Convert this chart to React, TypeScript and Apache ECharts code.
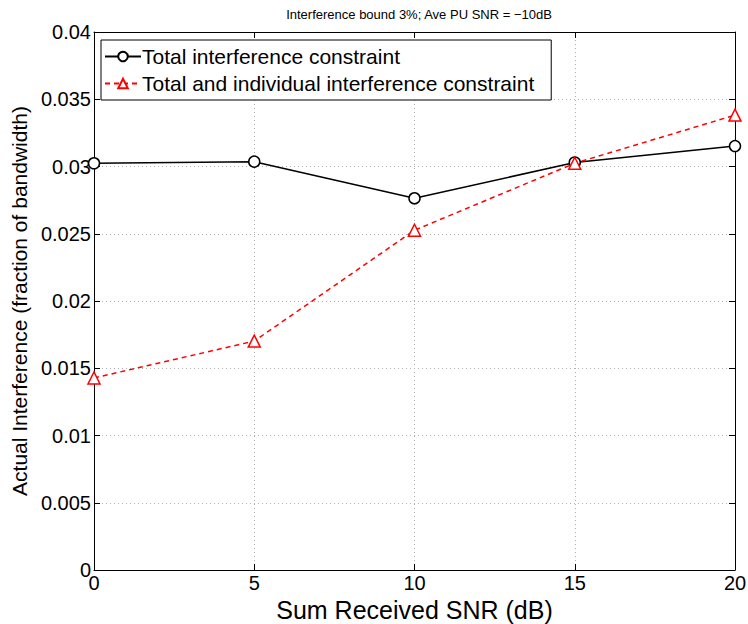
import React, { useEffect, useRef } from "react";
import * as echarts from "echarts";

const snrDb = [0, 5, 10, 15, 20];
const totalOnly = [0.03024, 0.03036, 0.02764, 0.0303, 0.03152];
const totalAndIndividual = [0.01428, 0.01702, 0.02526, 0.03024, 0.03382];
const seriesNames = [
  "Total interference constraint",
  "Total and individual interference constraint",
];

const FONT = "'Liberation Sans', Arial, Helvetica, sans-serif";

export default function App() {
  const ref = useRef<HTMLDivElement>(null);

  useEffect(() => {
    if (!ref.current) return;
    const chart = echarts.init(ref.current, null, { renderer: "svg" });
    const gridLine = { show: true, lineStyle: { color: "#b0b0b0", type: [1, 3] as any, width: 1 } };
    const mirrorAxisBase = {
      type: "value" as const,
      min: 0,
      axisLine: { show: true, onZero: false, lineStyle: { color: "#000", width: 1 } },
      axisTick: { show: true, inside: true, length: 6, lineStyle: { color: "#000" } },
      axisLabel: { show: false },
      splitLine: { show: false },
    };
    chart.setOption({
      animation: false,
      backgroundColor: "#fff",
      title: {
        text: "Interference bound 3%; Ave PU SNR = \u221210dB",
        left: 414,
        top: 3,
        textAlign: "center",
        textStyle: { fontFamily: FONT, fontSize: 13, fontWeight: "normal", color: "#000" },
      },
      grid: { left: 94, right: 13, top: 32, bottom: 54, containLabel: false, outerBoundsMode: "none" },
      legend: {
        left: 101,
        top: 40,
        orient: "vertical",
        backgroundColor: "#fff",
        borderColor: "#000",
        borderWidth: 1,
        borderRadius: 0,
        padding: [6, 17, 6, 3],
        itemGap: 6,
        itemWidth: 36,
        itemHeight: 12,
        textStyle: { fontFamily: FONT, fontSize: 21, color: "#000", padding: [0, 0, 0, -4] },
        data: seriesNames,
      },
      xAxis: [
        {
          type: "value",
          min: 0,
          max: 20,
          interval: 5,
          name: "Sum Received SNR (dB)",
          nameLocation: "middle",
          nameGap: 25,
          nameTextStyle: { fontFamily: FONT, fontSize: 25, color: "#000" },
          axisLine: { show: true, onZero: false, lineStyle: { color: "#000", width: 1 } },
          axisTick: { show: true, inside: true, length: 6, lineStyle: { color: "#000" } },
          axisLabel: { fontFamily: FONT, fontSize: 20, color: "#000", margin: 3 },
          splitLine: gridLine,
        },
        { ...mirrorAxisBase, position: "top", max: 20, interval: 5 },
      ],
      yAxis: [
        {
          type: "value",
          min: 0,
          max: 0.04,
          interval: 0.005,
          name: "Actual Interference (fraction of bandwidth)",
          nameLocation: "middle",
          nameGap: 64,
          nameTextStyle: { fontFamily: FONT, fontSize: 21, color: "#000" },
          axisLine: { show: true, onZero: false, lineStyle: { color: "#000", width: 1 } },
          axisTick: { show: true, inside: true, length: 6, lineStyle: { color: "#000" } },
          axisLabel: { fontFamily: FONT, fontSize: 20, color: "#000", margin: 3 },
          splitLine: gridLine,
        },
        { ...mirrorAxisBase, position: "right", max: 0.04, interval: 0.005 },
      ],
      series: [
        {
          name: seriesNames[0],
          type: "line",
          data: snrDb.map((x, i) => [x, totalOnly[i]]),
          symbol: "circle",
          symbolSize: 11,
          lineStyle: { color: "#000", width: 1.5 },
          itemStyle: { color: "#fff", borderColor: "#000", borderWidth: 1.5 },
          z: 3,
        },
        {
          name: seriesNames[1],
          type: "line",
          data: snrDb.map((x, i) => [x, totalAndIndividual[i]]),
          symbol: "triangle",
          symbolSize: 12,
          lineStyle: { color: "#ff0000", width: 1.5, type: [5, 4] as any },
          itemStyle: { color: "#fff", borderColor: "#ff0000", borderWidth: 1.5 },
          z: 4,
        },
      ],
    });
    return () => chart.dispose();
  }, []);

  return <div ref={ref} style={{ width: 748, height: 624, position: "absolute", left: 0, top: 0 }} />;
}
